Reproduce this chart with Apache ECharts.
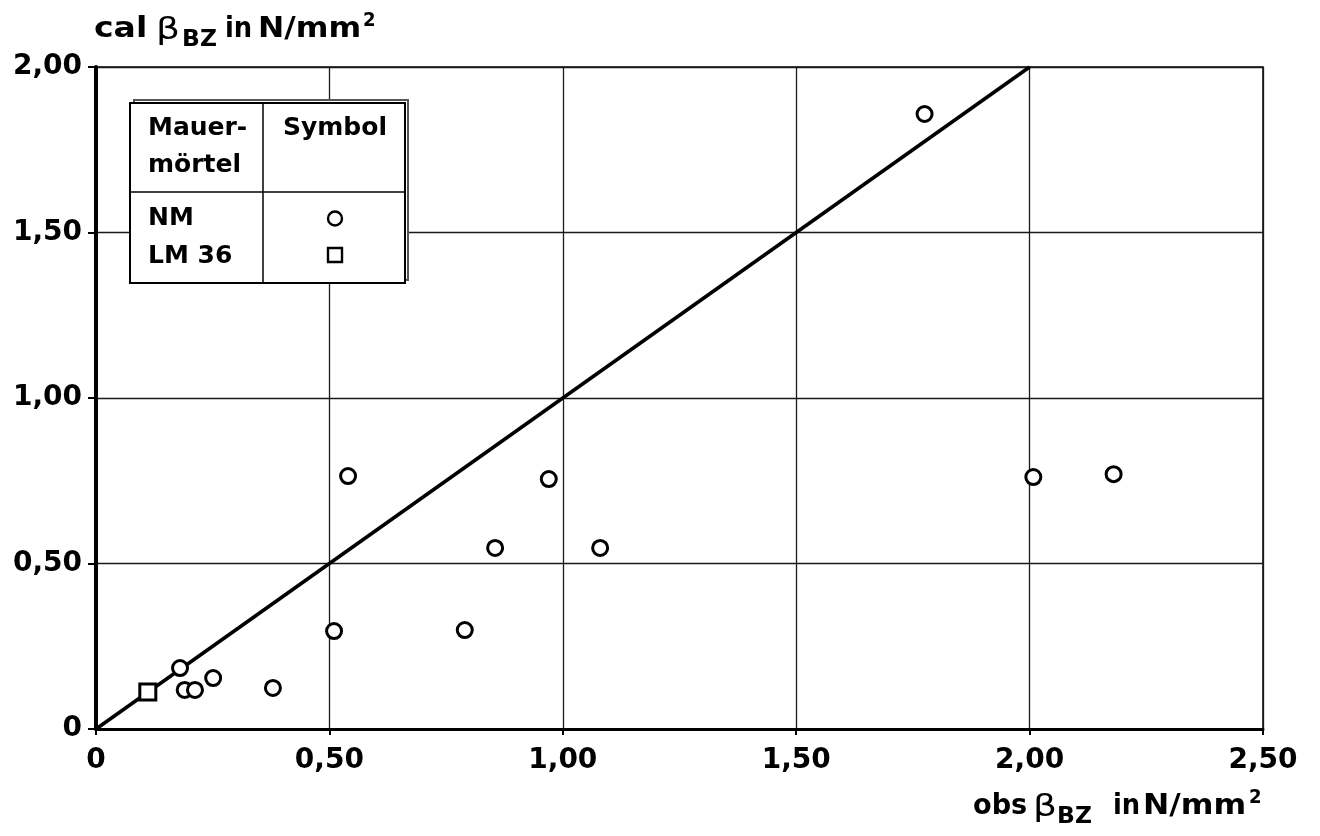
<!DOCTYPE html>
<html><head><meta charset="utf-8">
<script src="https://cdn.jsdelivr.net/npm/echarts@6/dist/echarts.min.js"></script>
<style>html,body{margin:0;padding:0;background:#fff}#c{width:1320px;height:836px}</style>
</head><body><div id="c"></div>
<script>
// ---- data ----
const nmObs = [0.180, 0.190, 0.212, 0.251, 0.379, 0.510, 0.540, 0.790, 0.855, 0.970, 1.080, 1.775, 2.008, 2.180];
const nmCal = [0.184, 0.118, 0.118, 0.154, 0.124, 0.296, 0.764, 0.299, 0.547, 0.755, 0.547, 1.858, 0.761, 0.770];
const lmObs = [0.111];
const lmCal = [0.112];
const refLineX = [0, 2];
const refLineY = [0, 2];
const xTickLabels = ['0', '0,50', '1,00', '1,50', '2,00', '2,50'];
const yTickLabels = ['0', '0,50', '1,00', '1,50', '2,00'];
const yTitleParts = ['cal', 'β', 'BZ', 'in', 'N/mm', '2'];
const xTitleParts = ['obs', 'β', 'BZ', 'in', 'N/mm', '2'];
const legendHead = ['Mauer-', 'mörtel', 'Symbol'];
const legendRows = ['NM', 'LM 36'];

const FONT = 'DejaVu Sans';
const chart = echarts.init(document.getElementById('c'), null, {renderer: 'canvas'});

function pts(xs, ys) { return xs.map((x, i) => [x, ys[i]]); }
function txt(text, x, y, size, sx, weight) {
  return {
    type: 'text', x: x, y: y, z: 100, scaleX: sx || 1,
    style: {text: text, fill: '#000', font: (weight || 'bold') + ' ' + size + 'px "' + FONT + '"',
      textAlign: 'left', textVerticalAlign: 'middle'}
  };
}
function title(parts, x0, dx, y0) {
  // parts: main word, beta, subscript, "in", unit, superscript
  return [
    txt(parts[0], x0, y0, 28, dx.s0),
    txt(parts[1], dx.b, y0 + 1, 30, 1.25, 'normal'),
    txt(parts[2], dx.z, y0 + 10, 23, 1.02),
    txt(parts[3], dx.i, y0, 28, 0.92),
    txt(parts[4], dx.n, y0, 28, 1.12),
    txt(parts[5], dx.p, y0 - 9, 19, 0.95)
  ];
}

const graphics = [].concat(
  title(yTitleParts, 94, {s0: 1.18, b: 156, z: 182, i: 225, n: 258, p: 363}, 30),
  title(xTitleParts, 973, {s0: 0.97, b: 1033, z: 1057, i: 1113, n: 1143, p: 1249}, 807),
  [
    // legend table: shadow, box, dividers
    {type: 'rect', z: 90, shape: {x: 134, y: 100, width: 274, height: 180}, style: {fill: '#fff', stroke: '#555', lineWidth: 2}},
    {type: 'rect', z: 91, shape: {x: 130, y: 103, width: 275, height: 180}, style: {fill: '#fff', stroke: '#000', lineWidth: 2}},
    {type: 'line', z: 92, shape: {x1: 263, y1: 103, x2: 263, y2: 283}, style: {stroke: '#000', lineWidth: 1.5}},
    {type: 'line', z: 92, shape: {x1: 130, y1: 192, x2: 405, y2: 192}, style: {stroke: '#000', lineWidth: 1.5}},
    txt(legendHead[0], 148, 128, 25),
    txt(legendHead[1], 148, 165, 25),
    txt(legendHead[2], 283, 128, 25),
    txt(legendRows[0], 148, 218, 25),
    txt(legendRows[1], 148, 256, 25),
    {type: 'circle', z: 95, shape: {cx: 335, cy: 218.5, r: 7}, style: {fill: '#fff', stroke: '#000', lineWidth: 2.4}},
    {type: 'rect', z: 95, shape: {x: 328, y: 248, width: 14, height: 14}, style: {fill: '#fff', stroke: '#000', lineWidth: 2.4}}
  ]
);

const axisLabelStyle = {color: '#000', fontFamily: FONT, fontWeight: 'bold', fontSize: 28};

chart.setOption({
  animation: false,
  backgroundColor: '#fff',
  grid: {left: 96, right: 57, top: 67, bottom: 107, show: true, borderColor: '#000', borderWidth: 1.5, backgroundColor: 'transparent'},
  xAxis: {
    type: 'value', min: 0, max: 2.5, interval: 0.5,
    axisLine: {show: true, onZero: false, lineStyle: {color: '#000', width: 3}},
    axisTick: {show: true, length: 6, lineStyle: {color: '#000', width: 2}},
    splitLine: {show: true, lineStyle: {color: '#1a1a1a', width: 1.3}},
    axisLabel: Object.assign({margin: 18, formatter: v => xTickLabels[Math.round(v / 0.5)]}, axisLabelStyle)
  },
  yAxis: {
    type: 'value', min: 0, max: 2, interval: 0.5,
    axisLine: {show: true, onZero: false, lineStyle: {color: '#000', width: 4}},
    axisTick: {show: true, length: 8, lineStyle: {color: '#000', width: 2}},
    splitLine: {show: true, lineStyle: {color: '#1a1a1a', width: 1.3}},
    axisLabel: Object.assign({margin: 14, padding: [8, 0, 0, 0], formatter: v => yTickLabels[Math.round(v / 0.5)]}, axisLabelStyle)
  },
  series: [
    {type: 'line', data: pts(refLineX, refLineY), showSymbol: false, symbol: 'none', z: 3,
     lineStyle: {color: '#000', width: 3.6}},
    {type: 'scatter', data: pts(nmObs, nmCal), symbol: 'circle', symbolSize: 15, z: 5,
     itemStyle: {color: '#fff', borderColor: '#000', borderWidth: 3, opacity: 1}},
    {type: 'scatter', data: pts(lmObs, lmCal), symbol: 'rect', symbolSize: 16, z: 5,
     itemStyle: {color: '#fff', borderColor: '#000', borderWidth: 3, opacity: 1}}
  ],
  graphic: graphics
});
</script>
</body></html>
